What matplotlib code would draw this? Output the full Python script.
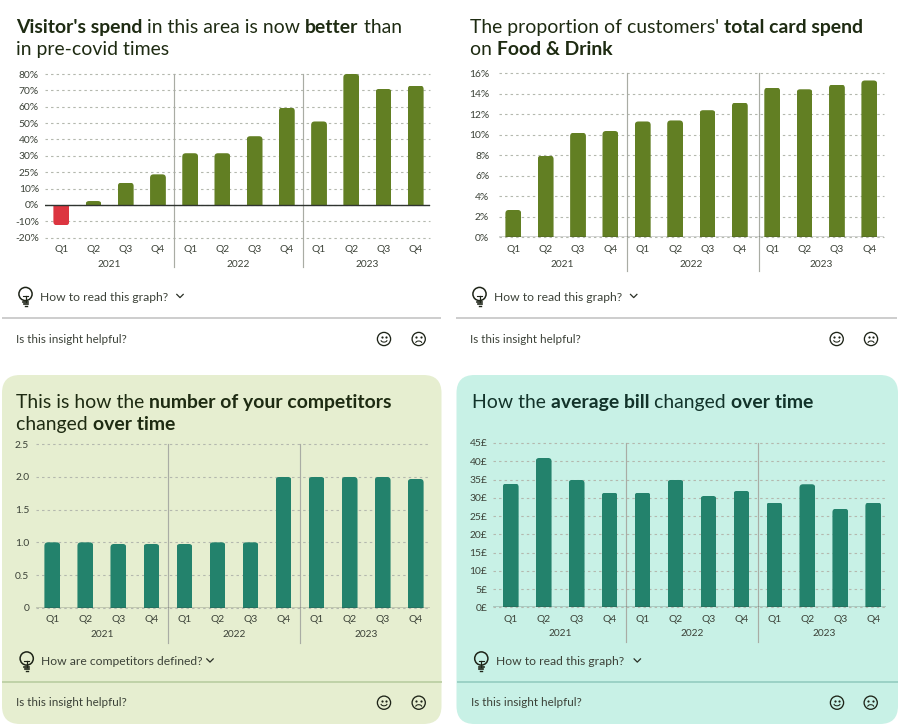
import numpy as np
import matplotlib
matplotlib.use('Agg')
import matplotlib.pyplot as plt
from matplotlib.patches import FancyBboxPatch, Circle

plt.rcParams['font.family'] = ['Lato', 'DejaVu Sans']

W, H = 900, 725

quarters = ['Q1', 'Q2', 'Q3', 'Q4'] * 3
years = ['2021', '2022', '2023']

visitor_spend = [-12.4, 2.4, 13.6, 18.7, 31.6, 31.6, 42, 59.5, 51, 80, 70.9, 72.9]
visitor_ticks = [-20, -10, 0, 10, 20, 30, 40, 50, 60, 70, 80]
visitor_labels = ['-20%', '-10%', '0%', '10%', '25%', '30%', '40%', '50%', '60%', '70%', '80%']

food_share = [2.67, 7.97, 10.2, 10.37, 11.3, 11.4, 12.4, 13.14, 14.6, 14.44, 14.9, 15.3]
food_ticks = [0, 2, 4, 6, 8, 10, 12, 14, 16]
food_labels = ['0%', '2%', '4%', '6%', '8%', '10%', '12%', '14%', '16%']

competitors = [1.0, 1.0, 0.975, 0.975, 0.975, 1.0, 1.0, 2.0, 2.0, 2.0, 2.0, 1.97]
competitor_ticks = [0, 0.5, 1.0, 1.5, 2.0, 2.5]
competitor_labels = ['0', '0.5', '1.0', '1.5', '2.0', '2.5']

avg_bill = [33.9, 40.9, 34.9, 31.4, 31.4, 34.9, 30.5, 31.9, 28.7, 33.7, 27, 28.7]
bill_ticks = [0, 5, 10, 15, 20, 25, 30, 35, 40, 45]
bill_labels = ['0£', '5£', '10£', '15£', '20£', '25£', '30£', '35£', '40£', '45£']

GREEN = '#627f23'
TEAL = '#23826c'
RED = '#dc3540'
TEXT = '#3c4238'

fig = plt.figure(figsize=(W / 100, H / 100), dpi=100, facecolor='white')

# page layer in pixel coords, everything that is not a chart goes here
bg = fig.add_axes([0, 0, 1, 1], zorder=0)
bg.set_xlim(0, W)
bg.set_ylim(H, 0)
bg.axis('off')

bg.add_patch(FancyBboxPatch((2 + 18, 375 + 18), 439.5 - 36, 349 - 36,
                            boxstyle='round,pad=18,rounding_size=18', fc='#e6eed0', ec='none'))
bg.add_patch(FancyBboxPatch((456.5 + 18, 375 + 18), 441.5 - 36, 349 - 36,
                            boxstyle='round,pad=18,rounding_size=18', fc='#c8f1e6', ec='none'))

renderer = fig.canvas.get_renderer()


def text_width(s, size, weight):
    t = bg.text(0, 0, s + '.', fontsize=size, fontweight=weight)
    dot = bg.text(0, 0, '.', fontsize=size, fontweight=weight)
    w = t.get_window_extent(renderer).width - dot.get_window_extent(renderer).width
    t.remove()
    dot.remove()
    return w


def title_line(x, y, runs, color, size=13.95):
    # mixed regular / bold runs, placed one after the other
    for s, bold in runs:
        weight = 'bold' if bold else 'normal'
        bg.text(x, y, s, fontsize=size, fontweight=weight, color=color, va='center_baseline', ha='left')
        x += text_width(s, size, weight)


def bulb(x, y, color='#1e2418'):
    bg.add_patch(Circle((x, y - 3), 6.6, fc='none', ec=color, lw=1.1))
    bg.plot([x - 2.5, x + 2.5], [y - 1, y - 1], color=color, lw=0.8)
    bg.plot([x, x], [y - 1, y + 5], color=color, lw=0.9)
    bg.plot([x - 2.6, x + 2.6], [y + 5, y + 5], color=color, lw=1.2)
    bg.plot([x - 2, x + 2], [y + 7, y + 7], color=color, lw=1.2)
    bg.plot([x - 1, x + 1], [y + 9, y + 9], color=color, lw=1.0)


def chevron(x, y, color='#2a2f26'):
    bg.plot([x - 3.2, x, x + 3.2], [y - 1.6, y + 1.6, y - 1.6], color=color, lw=0.9)


def face(x, y, happy, color='#1e2418'):
    bg.add_patch(Circle((x, y), 6.6, fc='none', ec=color, lw=0.95))
    bg.plot([x - 2.3, x + 2.3], [y - 1.9, y - 1.9], ls='none', marker='o', ms=1.6, mew=0, color=color)
    a = np.linspace(0.25, np.pi - 0.25, 20)
    if happy:
        bg.plot(x + 3.0 * np.cos(a), y + 1.2 + 1.9 * np.sin(a), color=color, lw=0.75)
    else:
        bg.plot(x + 3.0 * np.cos(a), y + 3.9 - 1.9 * np.sin(a), color=color, lw=0.75)


def footer(text_x, bulb_x, chev_x, help_x, face1, face2, how_y, div_y, ask_y, div_x, div_color, how_text):
    bulb(bulb_x, how_y)
    bg.text(text_x, how_y, how_text, fontsize=8.7, color=TEXT, va='center', ha='left')
    chevron(chev_x, how_y - 1)
    bg.plot(div_x, [div_y, div_y], color=div_color, lw=1.3, solid_capstyle='butt')
    bg.text(help_x, ask_y, 'Is this insight helpful?', fontsize=8.4, color=TEXT, va='center', ha='left')
    face(face1, ask_y, True)
    face(face2, ask_y, False)


def bar_chart(box, first, last, values, ticks, labels, color, sep_bottom, q_y, year_y, label_x,
              neg_color=None, seps=(3.5, 7.5)):
    left, right, top, bottom = box
    ax = fig.add_axes([left / W, 1 - bottom / H, (right - left) / W, (bottom - top) / H], zorder=1)
    ax.patch.set_visible(False)
    step = (last - first) / 11
    ax.set_xlim((left - first) / step, (right - first) / step)
    ax.set_ylim(ticks[0], ticks[-1])
    for s in ax.spines.values():
        s.set_visible(False)

    ax.set_yticks(ticks)
    ax.set_yticklabels(labels)
    ax.set_xticks(range(len(values)))
    ax.set_xticklabels(quarters)
    ax.tick_params(axis='y', length=0, labelsize=7.4, labelcolor=TEXT, pad=(left - label_x) * 0.72)
    ax.tick_params(axis='x', length=0, labelsize=7.4, labelcolor=TEXT, pad=(q_y - 5 - bottom) * 0.72)

    ax.set_axisbelow(True)
    ax.grid(axis='y', color='#b4b8ae', lw=0.8, ls=(0, (2.2, 2.8)))
    ax.grid(axis='x', visible=False)
    for g in ax.get_ygridlines():
        g.set_clip_on(False)

    colors = [neg_color if (neg_color and v < 0) else color for v in values]
    bars = ax.bar(range(len(values)), values, width=15.8 / step, color=colors, zorder=2)

    # round the outer corners only: clip each bar with a rounded box that runs past the base
    px_x = step
    px_y = (bottom - top) / (ticks[-1] - ticks[0])
    aspect = px_x / px_y
    r = 3.5 / px_x
    over = 8 / px_y
    for b in bars:
        x0, w = b.get_x(), b.get_width()
        h = b.get_height()
        if h >= 0:
            y0, hh = -over, h + over
        else:
            y0, hh = h, -h + over
        clip = FancyBboxPatch((x0, y0), w, hh, boxstyle=f'round,pad=0,rounding_size={r}',
                              mutation_aspect=aspect, transform=ax.transData)
        b.set_clip_path(clip)

    ax.axhline(0, color='#2f3430', lw=1.0, zorder=3)

    # year separators and year labels hang below the axes
    sep_frac = (bottom - sep_bottom) / (bottom - top)
    trans = ax.get_xaxis_transform()
    for sx in seps:
        ax.plot([sx, sx], [sep_frac, 1], transform=trans, color='#a9aca4', lw=0.85, clip_on=False, zorder=1.5)
    year_frac = (bottom - year_y) / (bottom - top)
    for i, yr in enumerate(years):
        ax.text(1.5 + 4 * i, year_frac, yr, transform=trans, fontsize=7.3, color=TEXT, ha='center', va='center')
    return ax


# chart 1
title_line(16, 26, [("Visitor's spend", True), (' in this area is now ', False), ('better', True), (' than', False)], '#1e2b12')
title_line(16, 48.3, [('in pre-covid times', False)], '#1e2b12')
bar_chart((45, 430, 74, 237.7), 61.3, 415.7, visitor_spend, visitor_ticks, visitor_labels,
          GREEN, 267, 250, 264.3, 39, neg_color=RED)
footer(40, 25.5, 180, 16, 384, 418.7, 297, 318, 339, [2, 441], '#c9c9c9', 'How to read this graph?')

# chart 2
title_line(470, 26, [('The proportion of customers\' ', False), ('total card spend', True)], '#1e2b12')
title_line(470, 48.3, [('on ', False), ('Food & Drink', True)], '#1e2b12')
bar_chart((499, 884, 73.3, 237.3), 513.3, 869.3, food_share, food_ticks, food_labels,
          GREEN, 270.7, 250, 264.3, 489.3, seps=(3.5, 7.6))
footer(494, 479.5, 633.7, 470, 836.7, 871, 297, 318, 339, [456, 897], '#c9c9c9', 'How to read this graph?')

# chart 3
title_line(16, 401, [('This is how the ', False), ('number of your competitors', True)], '#1e2b12')
title_line(16, 423.3, [('changed ', False), ('over time', True)], '#1e2b12')
bar_chart((36, 430, 444.3, 607.7), 52.3, 415.7, competitors, competitor_ticks, competitor_labels,
          TEAL, 643.3, 620.3, 634.7, 29.3)
footer(41, 26.7, 210, 16, 384, 418.7, 661.5, 681.7, 702.7, [2, 441.5], '#bcd0a4', 'How are competitors defined?')

# chart 4
title_line(471.7, 401, [('How the ', False), ('average bill', True), (' changed ', False), ('over time', True)], '#12332a')
bar_chart((492.7, 885.7, 443, 607.3), 510.7, 873.3, avg_bill, bill_ticks, bill_labels,
          TEAL, 642.3, 619.7, 634, 487.3)
footer(495.7, 481.3, 637.3, 470.7, 837, 870.7, 661.5, 681.7, 702.7, [456.5, 898], '#98cfc3', 'How to read this graph?')

bg.set_xlim(0, W)
bg.set_ylim(H, 0)
fig.savefig('out.png', dpi=100)
